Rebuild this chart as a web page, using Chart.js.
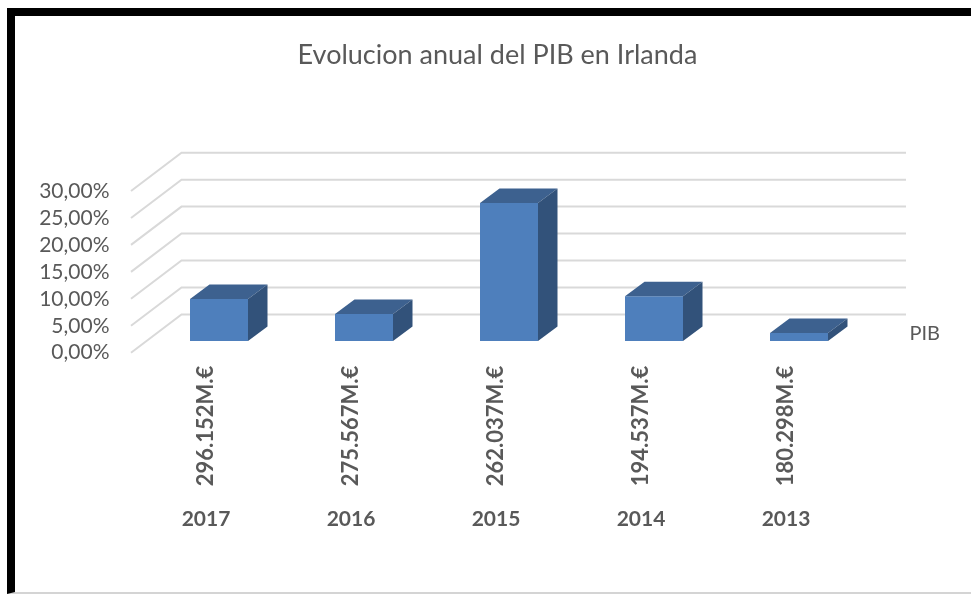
<!DOCTYPE html>
<html lang="en">

<head>
    <meta charset="UTF-8">
    <title>Evolucion anual del PIB en Irlanda</title>
    <script src="https://cdn.jsdelivr.net/npm/chart.js"></script>
    <style>
        html, body { margin: 0; padding: 0; background: #fff; overflow: hidden; }
        #frame {
            position: absolute; left: 7px; top: 8px; right: 0; bottom: 0;
            border-left: 8px solid #000; border-top: 8px solid #000;
            border-bottom: 2px solid #d4d4d4;
        }
        #chart { position: absolute; left: 0; top: 0; }
    </style>
</head>

<body>
    <div id="frame"></div>
    <canvas id="chart" width="971" height="594"></canvas>
    <script>
        const amounts = ['296.152M.€', '275.567M.€', '262.037M.€', '194.537M.€', '180.298M.€'];
        const years = ['2017', '2016', '2015', '2014', '2013'];
        const pib = [7.8, 5.0, 25.6, 8.3, 1.5];
        const seriesName = 'PIB';

        const textColor = '#595959';
        const fontFamily = 'Lato, Carlito, sans-serif';

        // 3d look: how far the back wall and the bar depth are shifted
        const wallDx = 50.5, wallDy = 38.3, wallEnd = 906;
        const depthDx = 19.5, depthDy = 14.5;

        function poly(ctx, color, pts) {
            ctx.fillStyle = color;
            ctx.beginPath();
            pts.forEach((p, i) => i ? ctx.lineTo(p[0], p[1]) : ctx.moveTo(p[0], p[1]));
            ctx.closePath();
            ctx.fill();
        }

        const wall3d = {
            id: 'wall3d',
            beforeDatasetsDraw(chart) {
                const ctx = chart.ctx;
                const y = chart.scales.y;
                const x0 = chart.chartArea.left - 15.5;
                ctx.save();
                ctx.strokeStyle = '#d9d9d9';
                ctx.lineWidth = 2;
                y.ticks.forEach(t => {
                    const p = y.getPixelForValue(t.value);
                    ctx.beginPath();
                    ctx.moveTo(x0, p);
                    ctx.lineTo(x0 + wallDx, p - wallDy);
                    ctx.lineTo(wallEnd, p - wallDy);
                    ctx.stroke();
                });
                ctx.restore();
            },
            afterDatasetsDraw(chart) {
                const ctx = chart.ctx;
                chart.getDatasetMeta(0).data.forEach(bar => {
                    const l = bar.x - bar.width / 2, r = bar.x + bar.width / 2;
                    poly(ctx, '#3d618f', [[l, bar.y], [l + depthDx, bar.y - depthDy], [r + depthDx, bar.y - depthDy], [r, bar.y]]);
                    poly(ctx, '#32527a', [[r, bar.y], [r + depthDx, bar.y - depthDy], [r + depthDx, bar.base - depthDy], [r, bar.base]]);
                });
                // name of the series at the end of the depth axis
                ctx.save();
                ctx.fillStyle = textColor;
                ctx.font = '20px ' + fontFamily;
                ctx.textAlign = 'left';
                ctx.textBaseline = 'middle';
                ctx.fillText(seriesName, 909.5, 334);
                ctx.restore();
            }
        };

        new Chart(document.getElementById('chart').getContext('2d'), {
            type: 'bar',
            plugins: [wall3d],
            data: {
                labels: amounts,
                datasets: [{
                    label: seriesName,
                    data: pib,
                    xAxisID: 'x',
                    yAxisID: 'yBars',
                    backgroundColor: '#4e7fbc',
                    barPercentage: 0.4,
                    categoryPercentage: 1
                }]
            },
            options: {
                responsive: false,
                animation: false,
                layout: {
                    autoPadding: false,
                    // left padding also centres the title where the reference has it
                    padding: { left: 24, right: 0, top: 39, bottom: 55.3 }
                },
                plugins: {
                    legend: { display: false },
                    tooltip: { enabled: false },
                    title: {
                        display: true,
                        text: 'Evolucion anual del PIB en Irlanda',
                        color: textColor,
                        font: { family: fontFamily, size: 27, weight: 'normal', lineHeight: 1.2 },
                        padding: { top: 0, bottom: 119.6 }
                    }
                },
                scales: {
                    x: {
                        grid: { display: false },
                        border: { display: false },
                        afterFit(scale) { scale.height = 146; },
                        ticks: {
                            color: textColor,
                            font: { family: fontFamily, size: 22, weight: 'bold' },
                            minRotation: 90,
                            maxRotation: 90,
                            autoSkip: false,
                            padding: 5,
                            labelOffset: -13
                        }
                    },
                    xYears: {
                        type: 'category',
                        labels: years,
                        position: 'bottom',
                        offset: true,
                        weight: 1,
                        grid: { display: false },
                        border: { display: false },
                        afterFit(scale) { scale.height = 40; },
                        ticks: {
                            color: textColor,
                            font: { family: fontFamily, size: 21, weight: 'bold' },
                            maxRotation: 0,
                            autoSkip: false,
                            padding: 0,
                            labelOffset: -13
                        }
                    },
                    y: {
                        min: 0,
                        max: 30,
                        grid: { display: false },
                        border: { display: false },
                        afterFit(scale) { scale.width = 122.5; },
                        ticks: {
                            stepSize: 5,
                            autoSkip: false,
                            color: textColor,
                            font: { family: fontFamily, size: 21 },
                            padding: 29,
                            callback: v => v.toFixed(2).replace('.', ',') + '%'
                        }
                    },
                    // bars stand on the front edge, a bit above the axis zero
                    // this axis shows nothing, it only keeps room on the right
                    yBars: {
                        position: 'right',
                        min: -2.17,
                        max: 27.83,
                        grid: { display: false },
                        border: { display: false },
                        ticks: { display: false },
                        afterFit(scale) { scale.width = 99.5; }
                    }
                }
            }
        });
    </script>
</body>

</html>
